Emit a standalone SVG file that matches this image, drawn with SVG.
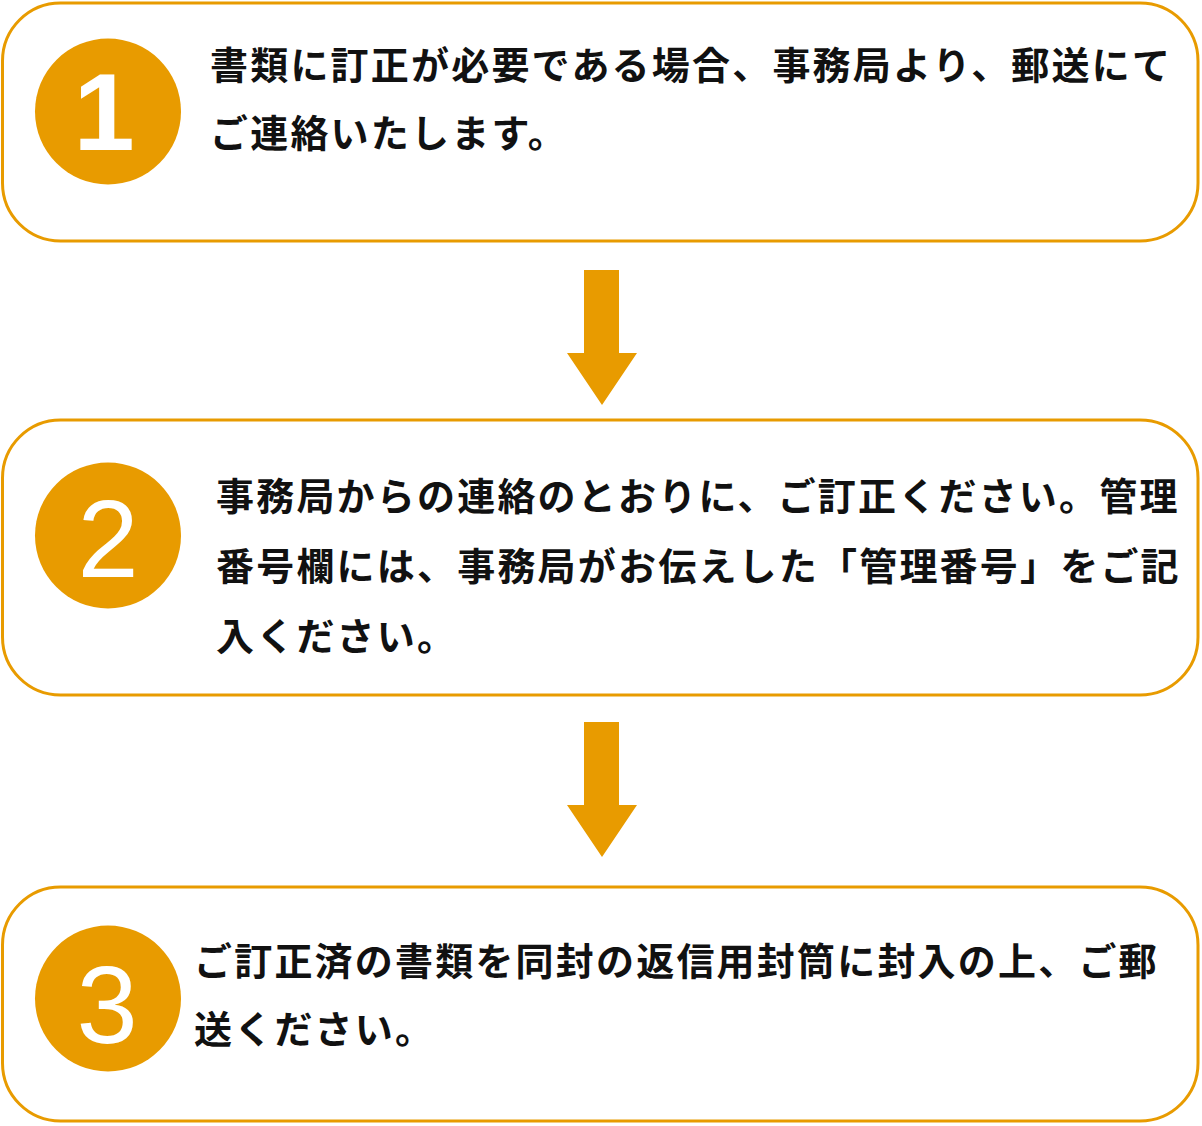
<svg xmlns="http://www.w3.org/2000/svg" width="1202" height="1126" viewBox="0 0 1202 1126">
<style>
.box{fill:#fff;stroke:#E89B00;stroke-width:3}
.badge{fill:#E89B00}
.num{fill:#fff;font-family:"Liberation Sans",Arial,sans-serif;font-size:110px;text-anchor:middle}
.t{fill:#111;font-family:"Noto Sans CJK JP","Noto Sans CJK SC",sans-serif;font-weight:bold;font-size:38px;letter-spacing:2.2px}
.arrow{fill:#E89B00}
</style>
<rect width="1202" height="1126" fill="#fff"/>
<g id="step1">
<rect class="box" x="2.5" y="3" width="1195.5" height="238" rx="58"/>
<circle class="badge" cx="108" cy="111.5" r="73"/>
<text class="num" x="104" y="150" font-weight="bold">1</text>
<text class="t" x="210" y="79">書類に訂正が必要である場合、事務局より、郵送にて</text>
<text class="t" x="210" y="147">ご連絡いたします。</text>
</g>
<g id="step2">
<rect class="box" x="2.5" y="420" width="1195.5" height="275" rx="58"/>
<circle class="badge" cx="108" cy="535.5" r="73"/>
<text class="num" x="108" y="577">2</text>
<text class="t" x="216" y="510">事務局からの連絡のとおりに、ご訂正ください。管理</text>
<text class="t" x="216" y="580">番号欄には、事務局がお伝えした「管理番号」をご記</text>
<text class="t" x="216" y="650">入ください。</text>
</g>
<g id="step3">
<rect class="box" x="2.5" y="887" width="1195.5" height="234" rx="58"/>
<circle class="badge" cx="108" cy="998.5" r="73"/>
<text class="num" x="107" y="1043">3</text>
<text class="t" x="194" y="975">ご訂正済の書類を同封の返信用封筒に封入の上、ご郵</text>
<text class="t" x="194" y="1043">送ください。</text>
</g>
<g id="connectors">
<polygon class="arrow" points="584,270 619,270 619,353 637,353 602,405 567,353 584,353"/>
<polygon class="arrow" points="584,722 619,722 619,805 637,805 602,857 567,805 584,805"/>
</g>
</svg>
